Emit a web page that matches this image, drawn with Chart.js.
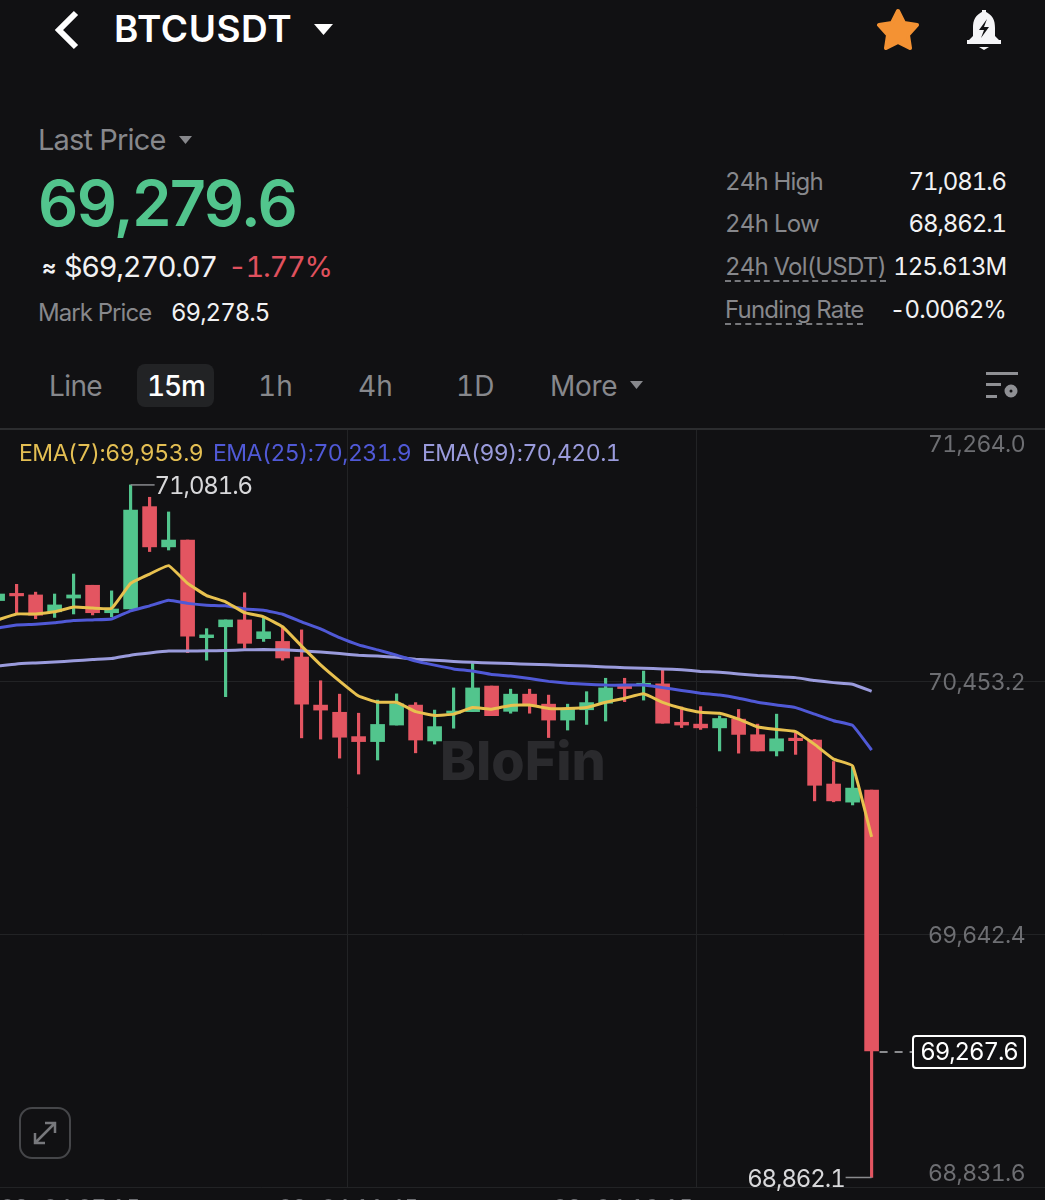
<!DOCTYPE html>
<html>
<head>
<meta charset="utf-8">
<title>BTCUSDT</title>
<script src="https://cdn.jsdelivr.net/npm/chart.js@4"></script>
<style>
  html, body { margin: 0; padding: 0; background: #111113; }
  body { width: 1045px; height: 1200px; position: relative; overflow: hidden; font-family: Inter, sans-serif; color: #fff; font-feature-settings: 'tnum'; }
  .t { position: absolute; white-space: nowrap; line-height: 1; }
  .gray { color: #87888c; }
  .lite { color: #f2f2f3; }
  .dash { border-bottom: 2px dashed #77787c; padding-bottom: 1px; }
  .tf { font-size: 28px; color: #87888c; top: 372px; }
  svg { position: absolute; }
  #wrap { position: absolute; left: 0; top: 428px; width: 1045px; height: 772px; }
</style>
</head>
<body>
<svg style="left:50px;top:10px" width="32" height="40"><path d="M26 3 L9 20 L26 37" fill="none" stroke="#fff" stroke-width="6"/></svg>
<div class="t" style="left:114px;top:10px;font-size:37px;font-weight:600;letter-spacing:0.6px;font-feature-settings:normal">BTCUSDT</div>
<svg style="left:313px;top:23px" width="22" height="14"><path d="M1 1 H20 L10.5 12 Z" fill="#fff"/></svg>
<svg style="left:876px;top:8px" width="44" height="42"><path d="M22 3 L28 15 L41 17 L32 27 L34 40 L22 34 L10 40 L12 27 L3 17 L16 15 Z" fill="#f49233" stroke="#f49233" stroke-width="4" stroke-linejoin="round"/></svg>
<svg style="left:964px;top:8px" width="40" height="42">
  <path d="M20 3 C11 7 9 12 9 20 V28 L4 33 H36 L31 28 V20 C31 12 29 7 20 3 Z" fill="#f5f5f7"/>
  <rect x="18" y="2" width="4" height="6" fill="#f5f5f7"/>
  <rect x="3" y="32" width="34" height="4" fill="#f5f5f7"/>
  <path d="M15 39 H25 L20 42 Z" fill="#f5f5f7"/>
  <path d="M23 11 L15 22 H20 L17 30 L25 19 H20 Z" fill="#111113"/>
</svg>

<div class="t gray" style="left:38px;top:125px;font-size:29px;letter-spacing:-0.8px">Last Price</div>
<svg style="left:179px;top:136px" width="14" height="9"><path d="M0 0 H13 L6.5 8 Z" fill="#87888c"/></svg>
<div class="t" style="left:38px;top:172px;font-size:63px;font-weight:600;color:#52c58d;letter-spacing:-1.6px;font-feature-settings:normal">69,279.6</div>
<div class="t lite" style="left:42px;top:256px;font-size:22px;font-weight:700">≈</div>
<div class="t lite" style="left:64px;top:252px;font-size:29px;letter-spacing:-1.3px">$69,270.07</div>
<div class="t" style="left:228px;top:252px;font-size:29px;color:#e0515e;letter-spacing:-1.3px">-1.77%</div>
<div class="t gray" style="left:38px;top:301px;font-size:24px;letter-spacing:-0.9px">Mark Price</div>
<div class="t lite" style="left:171px;top:301px;font-size:24px;letter-spacing:-1px">69,278.5</div>

<div class="t gray" style="left:725px;top:170px;font-size:24px;letter-spacing:-0.8px">24h High</div>
<div class="t lite" style="right:39px;top:170px;font-size:24px;letter-spacing:-1.1px">71,081.6</div>
<div class="t gray" style="left:725px;top:212px;font-size:24px;letter-spacing:-0.7px">24h Low</div>
<div class="t lite" style="right:39px;top:212px;font-size:24px;letter-spacing:-1.1px">68,862.1</div>
<div class="t gray dash" style="left:725px;top:255px;font-size:24px;letter-spacing:-0.8px">24h Vol(USDT)</div>
<div class="t lite" style="right:39px;top:255px;font-size:24px;letter-spacing:-1.1px">125.613M</div>
<div class="t gray dash" style="left:725px;top:298px;font-size:24px;letter-spacing:-0.8px">Funding Rate</div>
<div class="t lite" style="right:39px;top:298px;font-size:24px;letter-spacing:-0.9px">-0.0062%</div>

<div style="position:absolute;left:137px;top:364px;width:77px;height:43px;background:#222325;border-radius:8px"></div>
<div class="t tf" style="left:49px;letter-spacing:-0.6px">Line</div>
<div class="t tf" style="left:147px;color:#fff;font-weight:500;letter-spacing:-1.2px">15m</div>
<div class="t tf" style="left:258px">1h</div>
<div class="t tf" style="left:358px">4h</div>
<div class="t tf" style="left:456px">1D</div>
<div class="t tf" style="left:550px;letter-spacing:-0.3px">More</div>
<svg style="left:630px;top:381px" width="14" height="9"><path d="M0 0 H13 L6.5 8 Z" fill="#87888c"/></svg>
<svg style="left:984px;top:370px" width="36" height="32">
  <rect x="2" y="2" width="32" height="3" fill="#8f9094"/>
  <rect x="2" y="13" width="15" height="3" fill="#8f9094"/>
  <rect x="2" y="25" width="11" height="3" fill="#8f9094"/>
  <circle cx="27" cy="21" r="4" fill="none" stroke="#8f9094" stroke-width="5"/>
</svg>

<div id="wrap"><canvas id="klineChart" width="1045" height="772"></canvas></div>

<div class="t" style="left:19px;top:442px;font-size:23px;color:#e4bf53;letter-spacing:-0.47px">EMA(7):69,953.9</div>
<div class="t" style="left:213px;top:442px;font-size:23px;color:#5059d6;letter-spacing:-0.5px">EMA(25):70,231.9</div>
<div class="t" style="left:422px;top:442px;font-size:23px;color:#9a9bdc;letter-spacing:-0.5px">EMA(99):70,420.1</div>

<svg style="left:19px;top:1107px" width="52" height="52">
  <rect x="1" y="1" width="50" height="50" rx="12" fill="none" stroke="#454649" stroke-width="2"/>
  <path d="M17 35 L35 17 M26 16 H36 V26 M16 26 V36 H26" fill="none" stroke="#77787c" stroke-width="2.5"/>
</svg>

<script>
const candleIndex = [];
for (let n = 0; n < 47; n++) candleIndex.push(n);

const opens = [70711,70734,70729,70675,70719,70760,70672,70684,71012,70883,70905,70592,70627,70649,70589,70580,70530,70376,70353,70275,70259,70312,70376,70261,70350,70355,70437,70356,70411,70379,70328,70361,70382,70438,70439,70444,70321,70315,70303,70331,70281,70229,70270,70264,70123,70065,70104];
const closes = [70732,70726,70664,70697,70729,70672,70684,71001,70883,70905,70597,70601,70649,70574,70611,70527,70379,70360,70273,70259,70314,70380,70264,70307,70357,70431,70342,70411,70376,70328,70363,70384,70431,70429,70446,70318,70312,70303,70333,70282,70229,70268,70262,70119,70069,70110,69267.6];
const highs = [70745,70763,70738,70732,70796,70760,70742,71081.6,71042,70995,70905,70621,70649,70736,70659,70627,70617,70454,70411,70350,70392,70412,70384,70360,70431,70515,70437,70427,70427,70408,70379,70419,70462,70462,70485,70489,70370,70371,70341,70362,70315,70347,70286,70266,70195,70178,70104];
const lows = [70700,70670,70653,70657,70668,70665,70659,70684,70868,70873,70544,70520,70403,70558,70580,70520,70271,70267,70206,70155,70200,70312,70223,70251,70302,70355,70342,70350,70350,70272,70296,70314,70325,70387,70392,70318,70304,70298,70229,70222,70229,70213,70218,70069,70066,70056,68862.1];

const ema7 = [70649,70668,70668,70675,70690,70687,70686,70766,70796,70823,70766,70727,70707,70672,70659,70627,70565,70505,70453,70405,70385,70385,70355,70343,70347,70368,70363,70375,70376,70365,70365,70368,70385,70398,70412,70385,70366,70353,70350,70331,70306,70298,70291,70250,70203,70181,69953.9];
const ema25 = [70623,70633,70635,70640,70647,70649,70652,70678,70694,70712,70702,70696,70694,70684,70680,70667,70643,70620,70592,70569,70553,70536,70517,70504,70492,70485,70474,70469,70461,70452,70446,70443,70440,70440,70440,70432,70423,70414,70408,70398,70385,70376,70368,70347,70326,70311,70231.9];
const ema99 = [70501,70508,70511,70514,70518,70522,70525,70536,70543,70549,70549,70550,70551,70553,70554,70553,70550,70546,70541,70536,70533,70529,70523,70520,70516,70513,70511,70509,70507,70505,70503,70501,70498,70496,70494,70492,70489,70484,70481,70476,70471,70468,70464,70455,70448,70443,70420.1];

const priceTicks = [71264.0, 70453.2, 69642.4, 68831.6];
const timeLabels = ['03-04 07:15', '03-04 11:45', '03-04 16:15'];
const timeTicks = [0.126, 18.44, 36.8];

const UP = '#52c58d';
const DOWN = '#e35561';
const AXIS_FONT = '23px Inter, sans-serif';

function money(v) {
    return v.toLocaleString('en-US', { minimumFractionDigits: 1, maximumFractionDigits: 1 });
}

const candleColors = opens.map((o, i) => closes[i] >= o ? UP : DOWN);
const points = arr => candleIndex.map((x, i) => ({ x: x, y: arr[i] }));

// axis text is offset at the ends of each axis, so it is drawn here from the scales
const axisText = {
    id: 'axisText',
    afterDraw(chart) {
        const c = chart.ctx, xs = chart.scales.x, ys = chart.scales.y;
        c.save();
        c.font = AXIS_FONT;
        c.letterSpacing = '-0.6px';
        c.textAlign = 'right';
        c.textBaseline = 'middle';
        c.fillStyle = '#6d6e72';
        priceTicks.forEach((p, i) => {
            let y = ys.getPixelForValue(p) + 2;
            if (i === 0) y += 15;
            if (i === priceTicks.length - 1) y -= 15;
            c.fillText(money(p), 1025, y);
        });

        c.textBaseline = 'top';
        timeLabels.forEach((t, i) => {
            c.textAlign = i === 0 ? 'left' : i === 1 ? 'center' : 'right';
            c.fillText(t, xs.getPixelForValue(timeTicks[i]) - (i === 2 ? 4 : 0), ys.bottom + 11);
        });

        // high / low markers
        const hi = highs.indexOf(Math.max(...highs));
        const lo = lows.indexOf(Math.min(...lows));
        c.font = '24px Inter, sans-serif';
        c.letterSpacing = '-1.1px';
        c.fillStyle = '#d8d8da';
        c.strokeStyle = '#8a8b8e';
        c.lineWidth = 1.5;
        const hx = xs.getPixelForValue(hi), hy = ys.getPixelForValue(highs[hi]);
        c.beginPath(); c.moveTo(hx, hy); c.lineTo(hx + 24, hy); c.stroke();
        c.textAlign = 'left'; c.textBaseline = 'middle';
        c.fillText(money(highs[hi]), hx + 24, hy + 2);
        const lx = xs.getPixelForValue(lo), ly = ys.getPixelForValue(lows[lo]);
        c.beginPath(); c.moveTo(lx, ly); c.lineTo(lx - 26, ly); c.stroke();
        c.textAlign = 'right';
        c.fillText(money(lows[lo]), lx - 27, ly + 2);

        // last price tag
        const last = closes[closes.length - 1];
        const ly2 = ys.getPixelForValue(last) + 1;
        c.setLineDash([8, 7]);
        c.strokeStyle = '#8a8b8e';
        c.lineWidth = 2;
        c.beginPath(); c.moveTo(lx + 8, ly2); c.lineTo(912, ly2); c.stroke();
        c.setLineDash([]);
        c.fillStyle = '#111113';
        c.strokeStyle = '#ffffff';
        c.beginPath(); c.roundRect(913, ly2 - 16, 112, 32, 3); c.fill(); c.stroke();
        c.fillStyle = '#ffffff';
        c.textAlign = 'center';
        c.fillText(money(last), 969, ly2 + 1);
        c.restore();
    },
    beforeDatasetsDraw(chart) {
        const c = chart.ctx;
        c.save();
        c.font = '800 54px Inter, sans-serif';
        c.fillStyle = '#2a2a2d';
        c.textAlign = 'center';
        c.textBaseline = 'alphabetic';
        c.fillText('BloFin', 523, 352);
        c.restore();
    }
};

new Chart(document.getElementById('klineChart').getContext('2d'), {
    type: 'bar',
    data: {
        datasets: [
            { type: 'line', label: 'EMA(7)', data: points(ema7), borderColor: '#e8c14f', borderWidth: 3, pointRadius: 0, tension: 0.1, order: 0 },
            { type: 'line', label: 'EMA(25)', data: points(ema25), borderColor: '#5059d6', borderWidth: 3, pointRadius: 0, tension: 0.1, order: 1 },
            { type: 'line', label: 'EMA(99)', data: points(ema99), borderColor: '#9a9bdc', borderWidth: 3, pointRadius: 0, tension: 0.1, order: 2 },
            { label: 'Body', data: candleIndex.map((x, i) => ({ x: x, y: [opens[i], closes[i]] })), backgroundColor: candleColors, barThickness: 14, grouped: false, order: 3 },
            { label: 'Wick', data: candleIndex.map((x, i) => ({ x: x, y: [lows[i], highs[i]] })), backgroundColor: candleColors, barThickness: 2.5, grouped: false, order: 4 }
        ]
    },
    options: {
        responsive: false,
        animation: false,
        layout: { padding: 0 },
        plugins: { legend: { display: false }, tooltip: { enabled: false } },
        scales: {
            x: {
                type: 'linear',
                offset: false,
                min: 0.126,
                max: 55.126,
                afterFit: s => { s.height = 13; },
                afterBuildTicks: s => { s.ticks = timeTicks.map(v => ({ value: v })); },
                ticks: { display: false },
                border: { display: true, color: '#222325' },
                grid: { offset: false, color: ctx => ctx.index === 0 ? 'transparent' : '#222325', drawTicks: false, lineWidth: 1 }
            },
            y: {
                position: 'right',
                min: 68831.6,
                max: 71264,
                afterFit: s => { s.width = 0; },
                afterBuildTicks: s => { s.ticks = priceTicks.map(v => ({ value: v })); },
                ticks: { display: false },
                border: { display: false },
                grid: { color: ctx => ctx.index === 0 ? '#2c2d2f' : '#222325', lineWidth: ctx => ctx.index === 0 ? 3 : 1, drawTicks: false }
            }
        }
    },
    plugins: [axisText]
});
</script>
</body>
</html>
